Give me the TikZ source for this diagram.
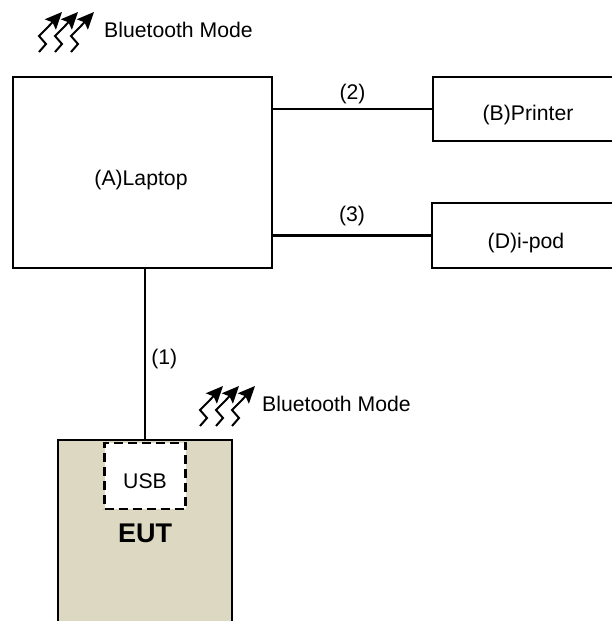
\documentclass[tikz,border=0pt]{standalone}
\usepackage{fontspec}
\setmainfont{Liberation Sans}
\usetikzlibrary{positioning, arrows.meta}
\definecolor{eutfill}{RGB}{221,216,193}
\tikzset{
    device/.style={rectangle, draw=black, line width=2.8pt, inner sep=0pt},
    link/.style={draw=black, line width=2.8pt},
    tag/.style={font=\fontsize{21.2}{25}\selectfont, inner sep=0pt},
    bolt/.pic={
        \draw[line width=2pt, -{Stealth[length=17pt,width=15pt,inset=3pt]}] (0,0) -- (7,8) -- (0,16) -- (9,25) -- (23,40);
    },
    btwave/.pic={
        \pic at (0,0) {bolt};
        \pic at (16,0) {bolt};
        \pic at (32,0) {bolt};
    }
}

\begin{document}
\begin{tikzpicture}[x=1pt, y=1pt]

\useasboundingbox (0,0) rectangle (612,621);
\clip (0,0) rectangle (612,621);

% Draw the devices
\node[device, minimum width=259pt, minimum height=191pt] (laptop) at (142.5,448.5) {};
\node[device, minimum width=190pt, minimum height=64pt] (printer) at (528,512) {};
\node[device, minimum width=190pt, minimum height=65pt] (ipod) at (527,385.5) {};

% Draw the EUT box
\node[device, fill=eutfill, minimum width=174pt, minimum height=220pt] (eut) at (145,71) {};
\node[device, dashed, dash pattern=on 9pt off 5pt, fill=white, minimum width=81pt, minimum height=66pt] (usb) at (145,145) {};

% Label the devices
\node[tag] (laptoptext) at ([xshift=-1.5pt, yshift=-8pt] laptop.center) {(A)Laptop};
\node[tag] (printertext) at ([yshift=-6pt] printer.center) {(B)Printer};
\node[tag] (ipodtext) at ([xshift=-1pt, yshift=-8pt] ipod.center) {(D)i-pod};
\node[tag] (usbtext) at ([yshift=-5pt] usb.center) {USB};
\node[tag, font=\fontsize{27}{32}\selectfont\bfseries] (euttext) at ([yshift=-57pt] usb.center) {EUT};

% Draw the links
\draw[link] (laptop.east |- printer) -- node[tag, above=4pt] (two) {(2)} (printer.west);
\draw[link] (laptop.east |- ipod) -- node[tag, above=8pt] (three) {(3)} (ipod.west);
\draw[link] (laptop.south -| eut) -- node[tag, right=5pt, pos=0.53] (one) {(1)} (eut.north);

% Add the bluetooth marks
\pic at (39,569) {btwave};
\pic at (200,195) {btwave};
\node[tag, anchor=west] (topmode) at (104,591) {Bluetooth Mode};
\node[tag, anchor=west] (lowmode) at (262,217) {Bluetooth Mode};

\end{tikzpicture}
\end{document}
